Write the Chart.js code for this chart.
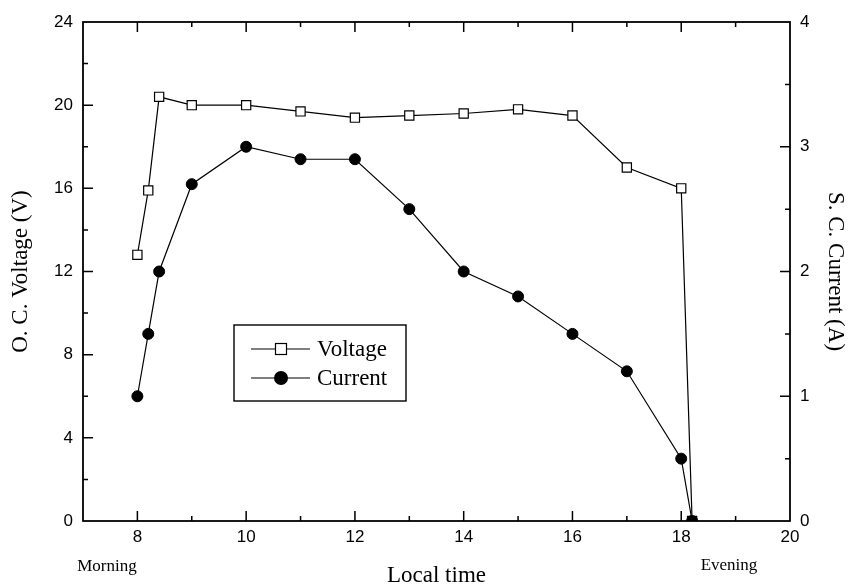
<!DOCTYPE html>
<html>
<head>
<meta charset="utf-8">
<script src="https://cdn.jsdelivr.net/npm/chart.js@4"></script>
<style>
  html, body { margin: 0; padding: 0; background: #fff; }
  #wrap { width: 849px; height: 587px; }
</style>
</head>
<body>
<div id="wrap"><canvas id="solarChart" width="849" height="587"></canvas></div>
<script>
// data
const hours   = [8, 8.2, 8.4, 9, 10, 11, 12, 13, 14, 15, 16, 17, 18, 18.2];
const voltage = [12.8, 15.9, 20.4, 20.0, 20.0, 19.7, 19.4, 19.5, 19.6, 19.8, 19.5, 17.0, 16.0, 0];
const current = [1.0, 1.5, 2.0, 2.7, 3.0, 2.9, 2.9, 2.5, 2.0, 1.8, 1.5, 1.2, 0.5, 0];

const xTicks  = [8, 10, 12, 14, 16, 18, 20];
const vTicks  = [0, 4, 8, 12, 16, 20, 24];
const cTicks  = [0, 1, 2, 3, 4];

const serif = '"Liberation Serif", "Times New Roman", serif';
const sans  = '"Liberation Sans", Arial, sans-serif';

// frame + inward ticks, drawn under the markers
const framePlugin = {
    id: 'frame',
    beforeDatasetsDraw(chart) {
        const { ctx, chartArea: a, scales } = chart;
        ctx.save();
        ctx.strokeStyle = '#000';
        ctx.lineWidth = 1.8;
        ctx.strokeRect(a.left, a.top, a.right - a.left, a.bottom - a.top);

        ctx.lineWidth = 1.5;
        ctx.beginPath();
        // x: major every 2, minor every 1 (bottom and top)
        for (let v = 8; v <= 19; v++) {
            const px = scales.x.getPixelForValue(v);
            const len = v % 2 === 0 ? 10 : 5;
            ctx.moveTo(px, a.bottom); ctx.lineTo(px, a.bottom - len);
            ctx.moveTo(px, a.top); ctx.lineTo(px, a.top + len);
        }
        // left voltage axis
        for (let v = 2; v < 24; v += 2) {
            const py = scales.y.getPixelForValue(v);
            const len = v % 4 === 0 ? 10 : 5;
            ctx.moveTo(a.left, py); ctx.lineTo(a.left + len, py);
        }
        // right current axis
        for (let v = 0.5; v < 4; v += 0.5) {
            const py = scales.y1.getPixelForValue(v);
            const len = v % 1 === 0 ? 10 : 5;
            ctx.moveTo(a.right, py); ctx.lineTo(a.right - len, py);
        }
        ctx.stroke();
        ctx.restore();
    },
    afterDraw(chart) {
        const { ctx } = chart;
        ctx.save();
        ctx.fillStyle = '#000';
        ctx.font = '17px ' + serif;
        ctx.textAlign = 'center';
        ctx.textBaseline = 'middle';
        ctx.fillText('Morning', 107, 567);
        ctx.fillText('Evening', 729, 566);

        // legend box
        ctx.strokeStyle = '#000';
        ctx.lineWidth = 1.4;
        ctx.strokeRect(234, 325, 172, 76);
        const rows = [
            { ds: chart.data.datasets[0], y: 349 },
            { ds: chart.data.datasets[1], y: 378 }
        ];
        ctx.font = '23px ' + serif;
        ctx.textAlign = 'left';
        rows.forEach(r => {
            ctx.lineWidth = 1.2;
            ctx.beginPath();
            ctx.moveTo(251, r.y); ctx.lineTo(310, r.y);
            ctx.stroke();
            ctx.fillStyle = r.ds.pointBackgroundColor;
            if (r.ds.pointStyle === 'rect') {
                ctx.fillRect(275.5, r.y - 5.5, 11, 11);
                ctx.strokeRect(275.5, r.y - 5.5, 11, 11);
            } else {
                ctx.beginPath();
                ctx.arc(281, r.y, 7, 0, Math.PI * 2);
                ctx.fill();
            }
            ctx.fillStyle = '#000';
            ctx.fillText(r.ds.label, 317, r.y + 1);
        });
        ctx.restore();
    }
};

const ctx = document.getElementById('solarChart').getContext('2d');

new Chart(ctx, {
    type: 'line',
    data: {
        datasets: [{
            label: 'Voltage',
            data: hours.map((h, i) => ({ x: h, y: voltage[i] })),
            yAxisID: 'y',
            order: 1,
            clip: 0,
            borderColor: '#000',
            borderWidth: 1.2,
            pointStyle: 'rect',
            pointRadius: 6.5,
            pointBackgroundColor: '#fff',
            pointBorderColor: '#000',
            pointBorderWidth: 1.2,
            tension: 0
        }, {
            label: 'Current',
            data: hours.map((h, i) => ({ x: h, y: current[i] })),
            yAxisID: 'y1',
            order: 0,
            clip: 0,
            borderColor: '#000',
            borderWidth: 1.2,
            pointStyle: 'circle',
            pointRadius: 5.5,
            pointBackgroundColor: '#000',
            pointBorderColor: '#000',
            pointBorderWidth: 1,
            tension: 0
        }]
    },
    options: {
        responsive: false,
        animation: false,
        layout: { padding: { top: 22, left: 0, right: 0, bottom: 0 } },
        plugins: {
            legend: { display: false },
            tooltip: { enabled: false }
        },
        scales: {
            x: {
                type: 'linear',
                min: 7,
                max: 20,
                afterBuildTicks: s => { s.ticks = xTicks.map(v => ({ value: v })); },
                afterFit: s => { s.height = 66; },
                grid: { display: false, drawTicks: false },
                border: { display: false },
                ticks: { color: '#000', font: { family: sans, size: 17 }, padding: 6 },
                title: {
                    display: true,
                    text: 'Local time',
                    color: '#000',
                    font: { family: serif, size: 23, lineHeight: 1 },
                    padding: { top: 0, bottom: 0 }
                }
            },
            y: {
                position: 'left',
                min: 0,
                max: 24,
                afterBuildTicks: s => { s.ticks = vTicks.map(v => ({ value: v })); },
                afterFit: s => { s.width = 83; },
                grid: { display: false, drawTicks: false },
                border: { display: false },
                ticks: { color: '#000', font: { family: sans, size: 17 }, padding: 10 },
                title: {
                    display: true,
                    text: 'O. C. Voltage (V)',
                    color: '#000',
                    font: { family: serif, size: 23, lineHeight: 1 },
                    padding: { top: 9, bottom: 0 }
                }
            },
            y1: {
                position: 'right',
                min: 0,
                max: 4,
                afterBuildTicks: s => { s.ticks = cTicks.map(v => ({ value: v })); },
                afterFit: s => { s.width = 59; },
                grid: { display: false, drawTicks: false },
                border: { display: false },
                ticks: { color: '#000', font: { family: sans, size: 17 }, padding: 10 },
                title: {
                    display: true,
                    text: 'S. C. Current (A)',
                    color: '#000',
                    font: { family: serif, size: 23, lineHeight: 1 },
                    padding: { top: 2, bottom: 0 }
                }
            }
        }
    },
    plugins: [framePlugin]
});
</script>
</body>
</html>
